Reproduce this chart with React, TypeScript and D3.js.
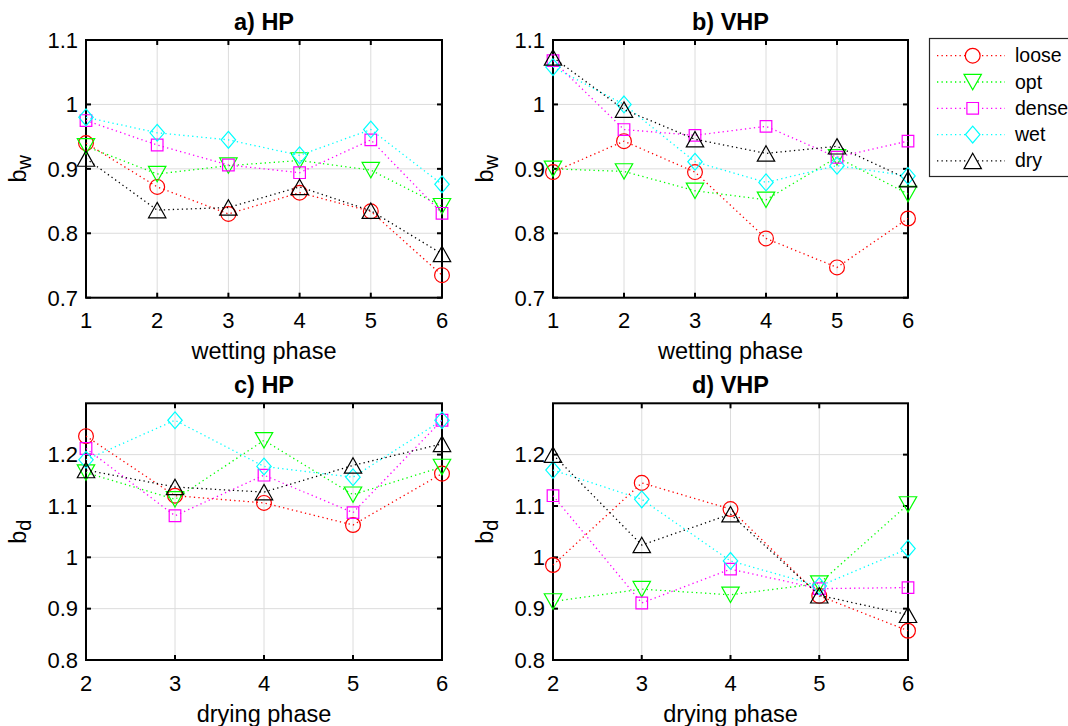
import React from "react";
import * as d3 from "d3";

// ---------- data ----------
const wettingPhases = [1, 2, 3, 4, 5, 6];
const dryingPhases = [2, 3, 4, 5, 6];
const seriesNames = ["loose", "opt", "dense", "wet", "dry"];

const wetTicksY = [0.7, 0.8, 0.9, 1, 1.1];
const dryTicksY = [0.8, 0.9, 1, 1.1, 1.2];

// a) HP, wetting
const hpWetLoose = [0.94, 0.872, 0.83, 0.863, 0.834, 0.735];
const hpWetOpt = [0.935, 0.892, 0.905, 0.913, 0.898, 0.842];
const hpWetDense = [0.975, 0.937, 0.906, 0.894, 0.945, 0.831];
const hpWetWet = [0.98, 0.956, 0.945, 0.921, 0.961, 0.876];
const hpWetDry = [0.916, 0.836, 0.84, 0.872, 0.835, 0.768];

// b) VHP, wetting
const vhpWetLoose = [0.895, 0.943, 0.895, 0.792, 0.747, 0.823];
const vhpWetOpt = [0.9, 0.896, 0.866, 0.852, 0.918, 0.861];
const vhpWetDense = [1.068, 0.961, 0.952, 0.966, 0.918, 0.943];
const vhpWetWet = [1.058, 1.0, 0.911, 0.879, 0.905, 0.889];
const vhpWetDry = [1.073, 0.992, 0.946, 0.924, 0.935, 0.884];

// c) HP, drying
const hpDryLoose = [1.236, 1.12, 1.106, 1.063, 1.163];
const hpDryOpt = [1.165, 1.113, 1.228, 1.122, 1.176];
const hpDryDense = [1.212, 1.081, 1.16, 1.087, 1.267];
const hpDryWet = [1.19, 1.267, 1.177, 1.156, 1.267];
const hpDryDry = [1.17, 1.137, 1.127, 1.179, 1.221];

// d) VHP, drying
const vhpDryLoose = [0.985, 1.145, 1.094, 0.925, 0.857];
const vhpDryOpt = [0.914, 0.938, 0.927, 0.949, 1.103];
const vhpDryDense = [1.12, 0.911, 0.977, 0.939, 0.941];
const vhpDryWet = [1.17, 1.113, 0.993, 0.944, 1.017];
const vhpDryDry = [1.2, 1.024, 1.084, 0.926, 0.888];

// ---------- styles ----------
const FONT = "'Liberation Sans', Arial, Helvetica, sans-serif";
const COLORS: Record<string, string> = {
  loose: "#ff0000",
  opt: "#00ff00",
  dense: "#ff00ff",
  wet: "#00ffff",
  dry: "#000000",
};
const MARKERS: Record<string, string> = {
  loose: "circle",
  opt: "tridown",
  dense: "square",
  wet: "diamond",
  dry: "triup",
};

function markerPath(kind: string, cx: number, cy: number): string {
  switch (kind) {
    case "circle": {
      const r = 7.4;
      return `M${cx - r},${cy}a${r},${r} 0 1,0 ${2 * r},0a${r},${r} 0 1,0 ${-2 * r},0Z`;
    }
    case "square": {
      const h = 5.8;
      return `M${cx - h},${cy - h}H${cx + h}V${cy + h}H${cx - h}Z`;
    }
    case "diamond": {
      const w = 7.2, h = 8.4;
      return `M${cx},${cy - h}L${cx + w},${cy}L${cx},${cy + h}L${cx - w},${cy}Z`;
    }
    case "triup": {
      const w = 8.7, h = 7.7;
      return `M${cx},${cy - h}L${cx + w},${cy + h}L${cx - w},${cy + h}Z`;
    }
    case "tridown": {
      const w = 8.7, h = 7.7;
      return `M${cx},${cy + h}L${cx + w},${cy - h}L${cx - w},${cy - h}Z`;
    }
  }
  return "";
}

const DASH = "1.3 3.2";

type PanelProps = {
  title: string;
  xs: number[];
  values: number[][];
  yDomain: [number, number];
  yTicks: number[];
  xLabel: string;
  ySub: string;
  left: number;
  right: number;
  top: number;
  bottom: number;
};

function Panel(p: PanelProps) {
  const x = d3.scaleLinear().domain([p.xs[0], p.xs[p.xs.length - 1]]).range([p.left, p.right]);
  const y = d3.scaleLinear().domain(p.yDomain).range([p.bottom, p.top]);
  const line = d3
    .line<number>()
    .x((_, i) => x(p.xs[i]))
    .y((d) => y(d));
  const tick = 5;
  const midX = (p.left + p.right) / 2;
  const midY = (p.top + p.bottom) / 2;
  const fmt = (v: number) => String(+v.toFixed(2));
  return (
    <g>
      {p.xs.map((v) => (
        <line key={"gx" + v} x1={x(v)} x2={x(v)} y1={p.top} y2={p.bottom} stroke="#dcdcdc" strokeWidth={1} />
      ))}
      {p.yTicks.map((v) => (
        <line key={"gy" + v} x1={p.left} x2={p.right} y1={y(v)} y2={y(v)} stroke="#dcdcdc" strokeWidth={1} />
      ))}
      {p.xs.map((v) => (
        <g key={"tx" + v}>
          <line x1={x(v)} x2={x(v)} y1={p.bottom} y2={p.bottom - tick} stroke="#000" strokeWidth={2} />
          <line x1={x(v)} x2={x(v)} y1={p.top} y2={p.top + tick} stroke="#000" strokeWidth={2} />
        </g>
      ))}
      {p.yTicks.map((v) => (
        <g key={"ty" + v}>
          <line x1={p.left} x2={p.left + tick} y1={y(v)} y2={y(v)} stroke="#000" strokeWidth={2} />
          <line x1={p.right} x2={p.right - tick} y1={y(v)} y2={y(v)} stroke="#000" strokeWidth={2} />
        </g>
      ))}
      <rect x={p.left} y={p.top} width={p.right - p.left} height={p.bottom - p.top} fill="none" stroke="#000" strokeWidth={2} />
      {p.xs.map((v) => (
        <text key={"lx" + v} x={x(v)} y={p.bottom + 30.5} textAnchor="middle" fontSize={22} fontFamily={FONT} fill="#000">
          {v}
        </text>
      ))}
      {p.yTicks.map((v) => (
        <text key={"ly" + v} x={p.left - 8} y={y(v) + 7.8} textAnchor="end" fontSize={22} fontFamily={FONT} fill="#000">
          {fmt(v)}
        </text>
      ))}
      <text x={midX} y={p.top - 10} textAnchor="middle" fontSize={23.5} fontWeight="bold" fontFamily={FONT} fill="#000">
        {p.title}
      </text>
      <text x={midX} y={p.bottom + 61.5} textAnchor="middle" fontSize={23.5} fontFamily={FONT} fill="#000">
        {p.xLabel}
      </text>
      <text
        transform={`translate(${p.left - 60},${midY}) rotate(-90)`}
        textAnchor="middle"
        fontSize={23.5}
        fontFamily={FONT}
        fill="#000"
      >
        b
        <tspan fontSize={20} dy={5}>
          {p.ySub}
        </tspan>
      </text>
      {p.values.map((vals, si) => {
        const name = seriesNames[si];
        return (
          <g key={name}>
            <path d={line(vals) || ""} fill="none" stroke={COLORS[name]} strokeWidth={1.3} strokeDasharray={DASH} />
            {vals.map((v, i) => (
              <path
                key={i}
                d={markerPath(MARKERS[name], x(p.xs[i]), y(v))}
                fill="none"
                stroke={COLORS[name]}
                strokeWidth={1.2}
              />
            ))}
          </g>
        );
      })}
    </g>
  );
}

function Legend() {
  const left = 929.5;
  const top = 38.5;
  const bottom = 176.5;
  const rowY0 = 55.7;
  const rowDy = 26.3;
  return (
    <g>
      <rect x={left} y={top} width={160} height={bottom - top} fill="#fff" stroke="#262626" strokeWidth={1.2} />
      {seriesNames.map((name, i) => {
        const cy = rowY0 + i * rowDy;
        return (
          <g key={name}>
            <line x1={937} x2={1005} y1={cy} y2={cy} stroke={COLORS[name]} strokeWidth={1.3} strokeDasharray={DASH} />
            <path d={markerPath(MARKERS[name], 972.7, cy)} fill="#fff" stroke={COLORS[name]} strokeWidth={1.2} />
            <text x={1015} y={cy + 6.5} fontSize={19.5} fontFamily={FONT} fill="#000">
              {name}
            </text>
          </g>
        );
      })}
    </g>
  );
}

export default function App() {
  const colA = { left: 86, right: 442 };
  const colB = { left: 553, right: 908 };
  const rowA = { top: 40, bottom: 297.7 };
  const rowB = { top: 403.3, bottom: 660 };
  return (
    <div style={{ position: "absolute", left: 0, top: 0 }}>
      <svg width={1068} height={726} style={{ display: "block", background: "#fff" }}>
        <rect x={0} y={0} width={1068} height={726} fill="#fff" />
        <Panel
          title="a) HP"
          xs={wettingPhases}
          values={[hpWetLoose, hpWetOpt, hpWetDense, hpWetWet, hpWetDry]}
          yDomain={[0.7, 1.1]}
          yTicks={wetTicksY}
          xLabel="wetting phase"
          ySub="w"
          {...colA}
          {...rowA}
        />
        <Panel
          title="b) VHP"
          xs={wettingPhases}
          values={[vhpWetLoose, vhpWetOpt, vhpWetDense, vhpWetWet, vhpWetDry]}
          yDomain={[0.7, 1.1]}
          yTicks={wetTicksY}
          xLabel="wetting phase"
          ySub="w"
          {...colB}
          {...rowA}
        />
        <Panel
          title="c) HP"
          xs={dryingPhases}
          values={[hpDryLoose, hpDryOpt, hpDryDense, hpDryWet, hpDryDry]}
          yDomain={[0.8, 1.3]}
          yTicks={dryTicksY}
          xLabel="drying phase"
          ySub="d"
          {...colA}
          {...rowB}
        />
        <Panel
          title="d) VHP"
          xs={dryingPhases}
          values={[vhpDryLoose, vhpDryOpt, vhpDryDense, vhpDryWet, vhpDryDry]}
          yDomain={[0.8, 1.3]}
          yTicks={dryTicksY}
          xLabel="drying phase"
          ySub="d"
          {...colB}
          {...rowB}
        />
        <Legend />
      </svg>
    </div>
  );
}
